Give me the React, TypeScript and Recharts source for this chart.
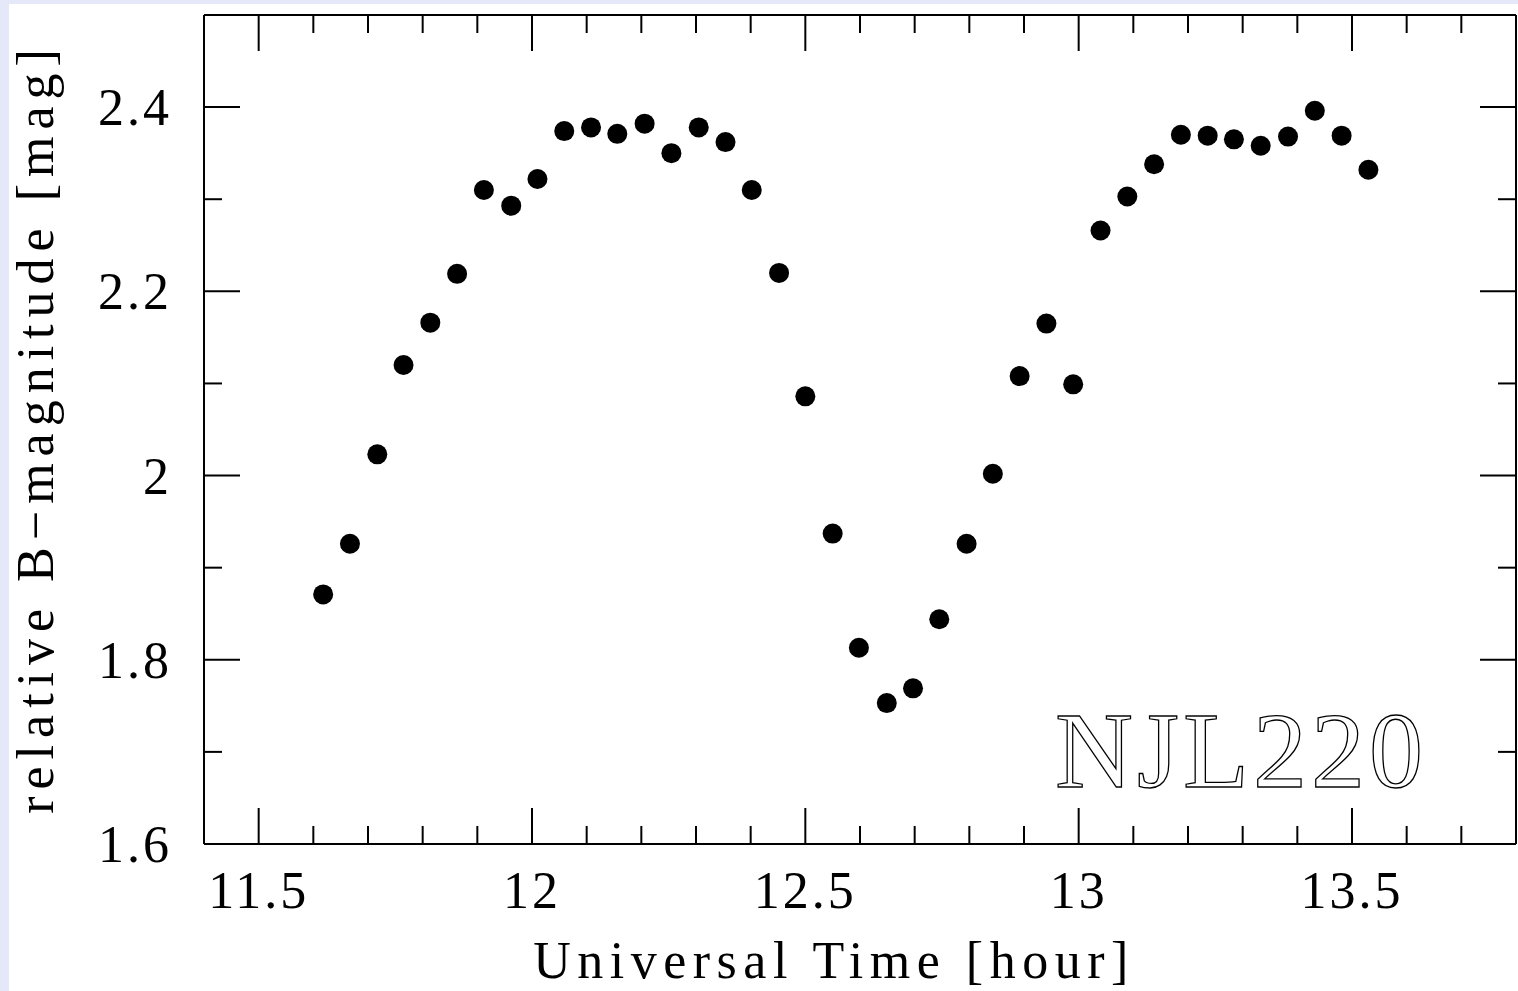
import { ScatterChart, Scatter, XAxis, YAxis } from "recharts";

// light curve readings (UT hour, relative B magnitude)
const times = [
  11.618, 11.667, 11.717, 11.765, 11.814, 11.863, 11.912, 11.962, 12.01, 12.059,
  12.108, 12.156, 12.206, 12.255, 12.305, 12.354, 12.402, 12.452, 12.5, 12.55,
  12.598, 12.649, 12.697, 12.745, 12.795, 12.843, 12.892, 12.941, 12.99, 13.04,
  13.089, 13.138, 13.187, 13.236, 13.284, 13.333, 13.383, 13.432, 13.481, 13.53,
];
const bmag = [
  1.871, 1.926, 2.023, 2.12, 2.166, 2.219, 2.31, 2.293, 2.322, 2.374,
  2.378, 2.371, 2.382, 2.35, 2.378, 2.362, 2.31, 2.22, 2.086, 1.937,
  1.813, 1.753, 1.769, 1.844, 1.926, 2.002, 2.108, 2.165, 2.099, 2.266,
  2.303, 2.338, 2.37, 2.369, 2.365, 2.358, 2.368, 2.396, 2.369, 2.332,
];

const xTicks = [
  11.5, 11.6, 11.7, 11.8, 11.9, 12, 12.1, 12.2, 12.3, 12.4, 12.5, 12.6,
  12.7, 12.8, 12.9, 13, 13.1, 13.2, 13.3, 13.4, 13.5, 13.6, 13.7,
];
const xLabelTicks = [11.5, 12, 12.5, 13, 13.5];
const yTicks = [1.6, 1.7, 1.8, 1.9, 2, 2.1, 2.2, 2.3, 2.4, 2.5];
const yLabelTicks = [1.6, 1.8, 2, 2.2, 2.4];

const points = times.map((t, i) => ({ t, mag: bmag[i] }));

const font = "'Liberation Serif', 'Times New Roman', serif";
const isIn = (list: number[], v: number) => list.some((d) => Math.abs(d - v) < 1e-6);

function BottomTick(props: any) {
  const { x, y, payload } = props;
  const major = isIn(xLabelTicks, payload.value);
  return (
    <g>
      <line x1={x} y1={y} x2={x} y2={y - (major ? 36 : 18)} stroke="#000" strokeWidth={2} />
      {major && (
        <text x={x} y={y + 64} textAnchor="middle" fontFamily={font} fontSize={52} letterSpacing={3} fill="#000">
          {String(payload.value)}
        </text>
      )}
    </g>
  );
}

function TopTick(props: any) {
  const { x, y, payload } = props;
  const major = isIn(xLabelTicks, payload.value);
  return <line x1={x} y1={y} x2={x} y2={y + (major ? 36 : 18)} stroke="#000" strokeWidth={2} />;
}

function LeftTick(props: any) {
  const { x, y, payload } = props;
  const major = isIn(yLabelTicks, payload.value);
  return (
    <g>
      <line x1={x} y1={y} x2={x + (major ? 36 : 18)} y2={y} stroke="#000" strokeWidth={2} />
      {major && (
        <text x={x - 32} y={y + 18} textAnchor="end" fontFamily={font} fontSize={52} letterSpacing={3} fill="#000">
          {String(payload.value)}
        </text>
      )}
    </g>
  );
}

function RightTick(props: any) {
  const { x, y, payload } = props;
  const major = isIn(yLabelTicks, payload.value);
  return <line x1={x} y1={y} x2={x - (major ? 36 : 18)} y2={y} stroke="#000" strokeWidth={2} />;
}

const Dot = (p: any) => <circle cx={p.cx} cy={p.cy} r={10} fill="#000" />;
const NoDot = () => <g />;

const frame = { stroke: "#000", strokeWidth: 2 };

export default function App() {
  return (
    <div
      style={{
        position: "fixed",
        left: 0,
        top: 0,
        width: 1518,
        height: 991,
        background: "#e4e8f8",
        overflow: "hidden",
      }}
    >
      <div style={{ position: "absolute", left: 9, top: 4, right: 0, bottom: 0, background: "#fff" }} />
      <div style={{ position: "absolute", left: 0, top: 0 }}>
        <ScatterChart width={1518} height={991} margin={{ top: 14, right: 1, bottom: 87, left: 144 }}>
          <XAxis
            xAxisId="b"
            dataKey="t"
            type="number"
            domain={[11.4, 13.8]}
            ticks={xTicks}
            interval={0}
            tickSize={0}
            tickMargin={0}
            tickLine={false}
            axisLine={frame}
            tick={<BottomTick />}
            height={60}
          />
          <XAxis
            xAxisId="t"
            dataKey="t"
            orientation="top"
            type="number"
            domain={[11.4, 13.8]}
            ticks={xTicks}
            interval={0}
            tickSize={0}
            tickMargin={0}
            tickLine={false}
            axisLine={frame}
            tick={<TopTick />}
            height={1}
          />
          <YAxis
            yAxisId="l"
            dataKey="mag"
            type="number"
            domain={[1.6, 2.5]}
            ticks={yTicks}
            interval={0}
            tickSize={0}
            tickMargin={0}
            tickLine={false}
            axisLine={frame}
            tick={<LeftTick />}
            width={60}
          />
          <YAxis
            yAxisId="r"
            dataKey="mag"
            orientation="right"
            type="number"
            domain={[1.6, 2.5]}
            ticks={yTicks}
            interval={0}
            tickSize={0}
            tickMargin={0}
            tickLine={false}
            axisLine={frame}
            tick={<RightTick />}
            width={1}
          />
          <Scatter
            data={points}
            xAxisId="t"
            yAxisId="r"
            shape={<NoDot />}
            isAnimationActive={false}
          />
          <Scatter
            data={points}
            xAxisId="b"
            yAxisId="l"
            fill="#000"
            shape={<Dot />}
            isAnimationActive={false}
          />
        </ScatterChart>
      </div>
      <svg
        width={1518}
        height={991}
        style={{ position: "absolute", left: 0, top: 0, pointerEvents: "none" }}
      >
        <text x={834} y={978} textAnchor="middle" fontFamily={font} fontSize={52} letterSpacing={6.5} fill="#000">
          Universal Time [hour]
        </text>
        <text
          x={53}
          y={428}
          transform="rotate(-90 53 428)"
          textAnchor="middle"
          fontFamily={font}
          fontSize={52}
          letterSpacing={7}
          fill="#000"
        >
          relative B−magnitude [mag]
        </text>
        <text
          x={1055}
          y={787}
          fontFamily={font}
          fontSize={108}
          letterSpacing={4}
          fill="#fff"
          stroke="#000"
          strokeWidth={1.3}
        >
          NJL220
        </text>
      </svg>
    </div>
  );
}
